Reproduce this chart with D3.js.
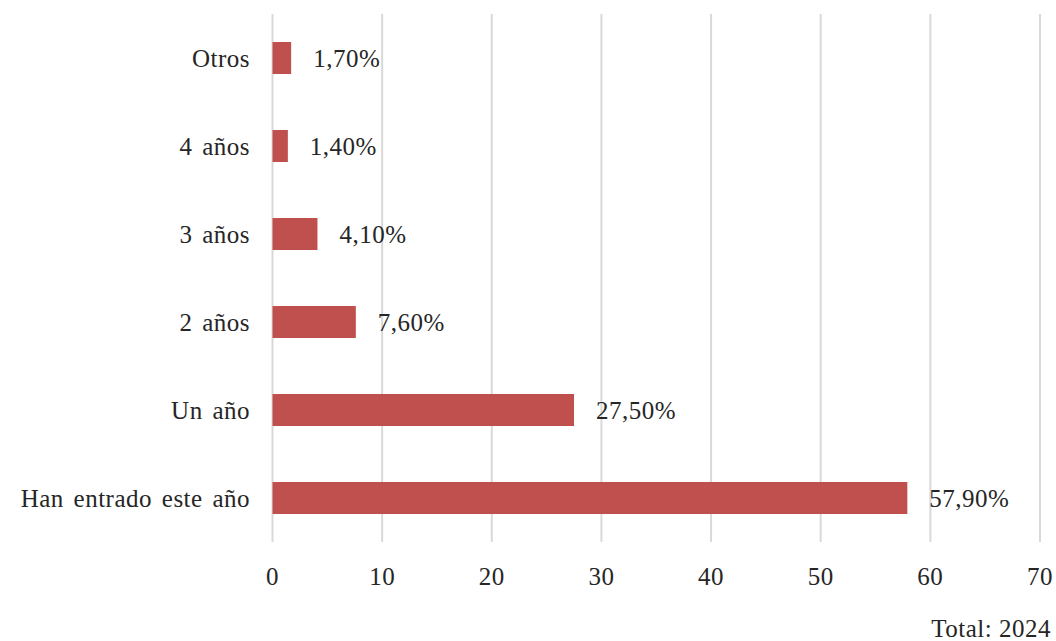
<!DOCTYPE html>
<html>
<head>
<meta charset="utf-8">
<script src="https://cdn.jsdelivr.net/npm/d3@7"></script>
<style>
  html, body { margin: 0; padding: 0; background: #fff; }
  svg text { font-family: "Liberation Serif", "DejaVu Serif", serif; fill: #262626; letter-spacing: 0.5px; }
</style>
</head>
<body>
<svg id="chart" width="1056" height="641"></svg>
<script>
const categories = ["Otros", "4 años", "3 años", "2 años", "Un año", "Han entrado este año"];
const values = [1.7, 1.4, 4.1, 7.6, 27.5, 57.9];
const valueLabels = ["1,70%", "1,40%", "4,10%", "7,60%", "27,50%", "57,90%"];
const xTicks = [0, 10, 20, 30, 40, 50, 60, 70];
const footnote = "Total: 2024";

(function () {
const svg = d3.select("#chart");
const mLeft = 272.5, mRight = 1040, mTop = 14, mBottom = 542;
const fs = 25;

const x = d3.scaleLinear().domain([0, 70]).range([mLeft, mRight]);
const y = d3.scaleBand().domain(categories).range([mTop, mBottom]).paddingInner(0.636).paddingOuter(0.318);

// gridlines
svg.append("g").selectAll("line").data(xTicks).join("line")
  .attr("x1", d => x(d)).attr("x2", d => x(d))
  .attr("y1", mTop).attr("y2", mBottom)
  .attr("stroke", "#d9d9d9").attr("stroke-width", 2);

// bars
svg.append("g").selectAll("rect").data(values).join("rect")
  .attr("x", x(0))
  .attr("y", (d, i) => y(categories[i]))
  .attr("width", d => x(d) - x(0))
  .attr("height", y.bandwidth())
  .attr("fill", "#C0504D");

// value labels
svg.append("g").selectAll("text").data(values).join("text")
  .attr("x", d => x(d) + 22)
  .attr("y", (d, i) => y(categories[i]) + y.bandwidth() / 2)
  .attr("dy", "0.35em")
  .attr("font-size", fs)
  .text((d, i) => valueLabels[i]);

// category labels
svg.append("g").selectAll("text").data(categories).join("text")
  .attr("x", 250)
  .attr("y", d => y(d) + y.bandwidth() / 2)
  .attr("dy", "0.35em")
  .attr("text-anchor", "end")
  .attr("font-size", fs)
  .attr("word-spacing", 3)
  .text(d => d);

// x tick labels
svg.append("g").selectAll("text").data(xTicks).join("text")
  .attr("x", d => x(d))
  .attr("y", 585)
  .attr("text-anchor", "middle")
  .attr("font-size", fs)
  .text(d => d);

// footnote
svg.append("text")
  .attr("x", 1051).attr("y", 637)
  .attr("text-anchor", "end")
  .attr("font-size", fs)
  .text(footnote);
})();
</script>
</body>
</html>
